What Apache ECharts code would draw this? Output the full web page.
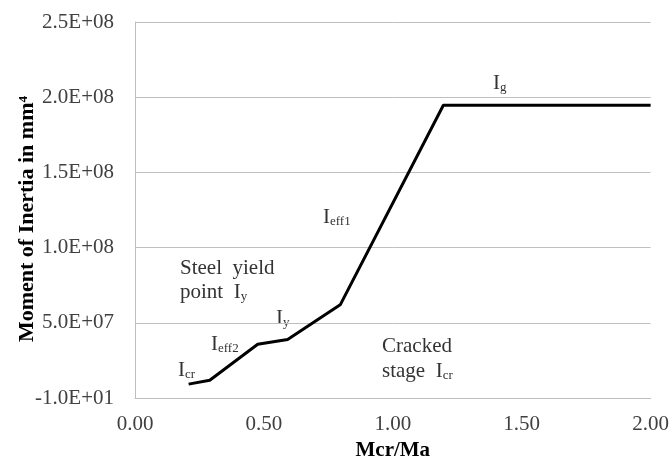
<!DOCTYPE html>
<html><head><meta charset="utf-8">
<script src="https://cdn.jsdelivr.net/npm/echarts@6/dist/echarts.min.js"></script>
<style>html,body{margin:0;padding:0;background:#fff}#c{width:672px;height:466px}</style>
</head><body><div id="c"></div>
<script>
var xValues = [0.208, 0.29, 0.476, 0.592, 0.796, 1.196, 2.0];
var yValues = [9.3e6, 1.19e7, 3.58e7, 3.9e7, 6.2e7, 1.947e8, 1.947e8];
var xTicks = ['0.00','0.50','1.00','1.50','2.00'];
var yTicks = ['-1.0E+01','5.0E+07','1.0E+08','1.5E+08','2.0E+08','2.5E+08'];

var serif = '"Liberation Serif","Times New Roman",serif';
var chart = echarts.init(document.getElementById('c'));
function sub(main, s){ return '{m|' + main + '}{s|' + s + '}'; }
var rich = {
  m: {fontFamily: serif, fontSize: 21, color: '#333', verticalAlign: 'bottom', lineHeight: 24},
  s: {fontFamily: serif, fontSize: 13, color: '#333', verticalAlign: 'bottom', lineHeight: 20},
  t: {fontFamily: serif, fontSize: 21, color: '#333', lineHeight: 24}
};
function txt(x, y, t){
  return {type:'text', left:x, top:y, style:{text:t, rich:rich, fill:'#333', font:'21px '+serif}};
}
chart.setOption({
  animation: false,
  grid: {left: 135, right: 21, top: 22, bottom: 67},
  xAxis: {
    type: 'value', min: 0, max: 2, interval: 0.5,
    name: 'Mcr/Ma', nameLocation: 'middle', nameGap: 36,
    nameTextStyle: {fontFamily: serif, fontSize: 21, fontWeight: 'bold', color: '#000'},
    axisLine: {show: true, lineStyle: {color: '#bfbfbf', width: 1}},
    axisTick: {show: false},
    splitLine: {show: false},
    axisLabel: {fontFamily: serif, fontSize: 21, color: '#404040', margin: 16,
      formatter: function(v){ return xTicks[Math.round(v/0.5)]; }}
  },
  yAxis: {
    type: 'value', min: 0, max: 2.5e8, interval: 5e7,
    axisLine: {show: true, lineStyle: {color: '#bfbfbf', width: 1}},
    axisTick: {show: false},
    splitLine: {show: true, lineStyle: {color: '#bfbfbf', width: 1}},
    axisLabel: {fontFamily: serif, fontSize: 21, color: '#404040', margin: 21,
      formatter: function(v){ return yTicks[Math.round(v/5e7)]; }}
  },
  series: [{
    type: 'line', showSymbol: false,
    data: xValues.map(function(x,i){ return [x, yValues[i]]; }),
    lineStyle: {color: '#000', width: 3}
  }],
  graphic: [
    {type:'text', x: 27, y: 219, rotation: Math.PI/2,
      style:{text:'Moment of Inertia in mm⁴', font:'bold 22px '+serif, fill:'#000',
        align:'center', verticalAlign:'middle'}},
    txt(493, 73, sub('I','g')),
    txt(323, 207, sub('I','eff1')),
    txt(180, 258, '{t|Steel  yield}'),
    txt(180, 282, '{m|point  I}{s|y}'),
    txt(276, 308, sub('I','y')),
    txt(211, 334, sub('I','eff2')),
    txt(178, 360, sub('I','cr')),
    txt(382, 336, '{t|Cracked}'),
    txt(382, 361, '{m|stage  I}{s|cr}')
  ]
});
</script></body></html>
